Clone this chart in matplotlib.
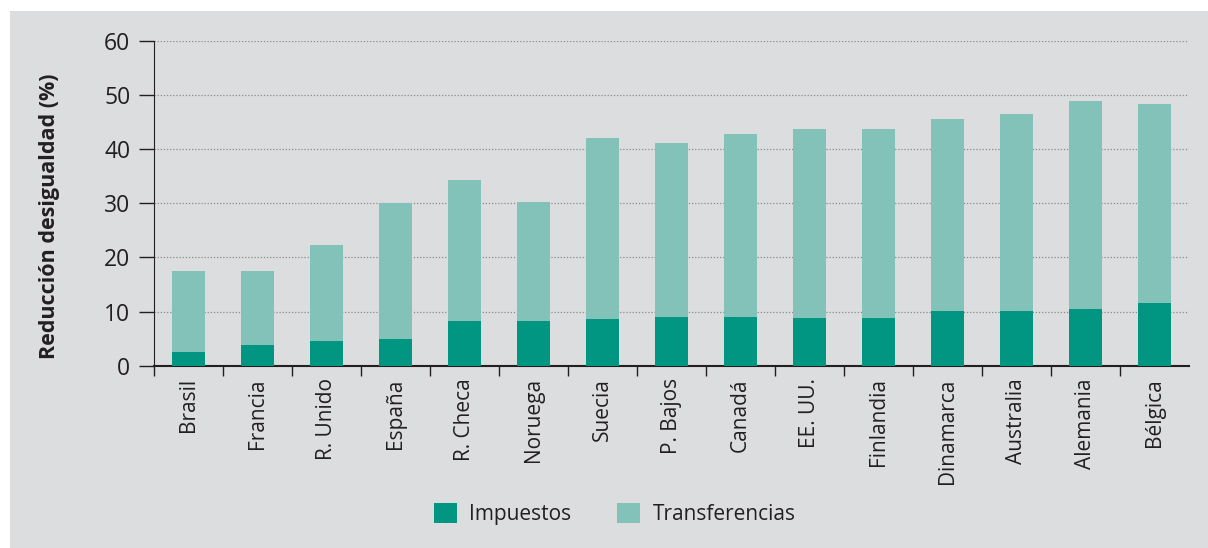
import numpy as np
import matplotlib
matplotlib.use("Agg")
import matplotlib.pyplot as plt
from matplotlib.patches import Rectangle

plt.rcParams["font.family"] = ["Open Sans", "DejaVu Sans"]

paises = ["Brasil", "Francia", "R. Unido", "España", "R. Checa", "Noruega",
          "Suecia", "P. Bajos", "Canadá", "EE. UU.", "Finlandia", "Dinamarca",
          "Australia", "Alemania", "Bélgica"]
total = [17.5, 17.5, 22.3, 30.1, 34.3, 30.3, 42.1, 41.2, 42.8, 43.8, 43.8,
         45.6, 46.5, 48.9, 48.4]
impuestos = [2.5, 3.8, 4.6, 4.9, 8.3, 8.3, 8.6, 9.0, 9.0, 8.8, 8.8,
             10.1, 10.1, 10.5, 11.6]
transferencias = [t - i for t, i in zip(total, impuestos)]

c_imp = "#009682"
c_tra = "#83c2b8"
fondo = "#dcdddf"
tinta = "#231f20"

fig = plt.figure(figsize=(12.08, 5.48), dpi=100)
fig.patch.set_facecolor("white")
fig.patches.append(Rectangle((10 / 1208, 0), 1 - 10 / 1208, 1 - 11 / 548,
                             transform=fig.transFigure, facecolor=fondo,
                             edgecolor="none", zorder=-5))

ax = fig.add_axes([154 / 1208, 1 - 365.7 / 548, (1189 - 154) / 1208,
                   (365.7 - 41) / 548])
ax.set_facecolor("none")
ax.set_zorder(2)

x = np.arange(len(paises))
ax.bar(x, impuestos, width=0.47, color=c_imp, label="Impuestos", zorder=3)
ax.bar(x, transferencias, width=0.47, bottom=impuestos, color=c_tra,
       label="Transferencias", zorder=3)

ax.set_xlim(-0.5, len(paises) - 0.5)
ax.set_ylim(0, 60)
ax.set_yticks(range(0, 61, 10))
ax.tick_params(axis="y", length=11, width=1, colors=tinta, labelsize=16.5, pad=6)

ax.set_xticks(x - 0.5, minor=False)
ax.set_xticks(x, minor=True)
ax.set_xticklabels([])
ax.set_xticklabels(paises, minor=True, rotation=90, fontsize=15, color=tinta)
ax.tick_params(axis="x", which="major", length=7, width=1, colors=tinta)
ax.tick_params(axis="x", which="minor", length=0, pad=9)

for v in range(10, 61, 10):
    ax.axhline(v, color="#8a8a8a", lw=0.9, ls=(0, (1, 1.5)), zorder=1)

for s in ["top", "right"]:
    ax.spines[s].set_visible(False)
ax.spines["left"].set_color(tinta)
ax.spines["bottom"].set_color(tinta)
ax.spines["bottom"].set_linewidth(1.5)

ax.set_ylabel("Reducción desigualdad (%)", fontsize=15.5, fontweight="bold",
              color=tinta)
ax.yaxis.set_label_coords(-0.091, 0.46)

fig.legend(loc="center", bbox_to_anchor=(0.509, 0.062), ncol=2, frameon=False,
           fontsize=15, handlelength=1.1, handleheight=1.1, handletextpad=0.6,
           columnspacing=2.2, labelcolor=tinta)

fig.savefig("out.png", dpi=100, facecolor=fig.get_facecolor())
